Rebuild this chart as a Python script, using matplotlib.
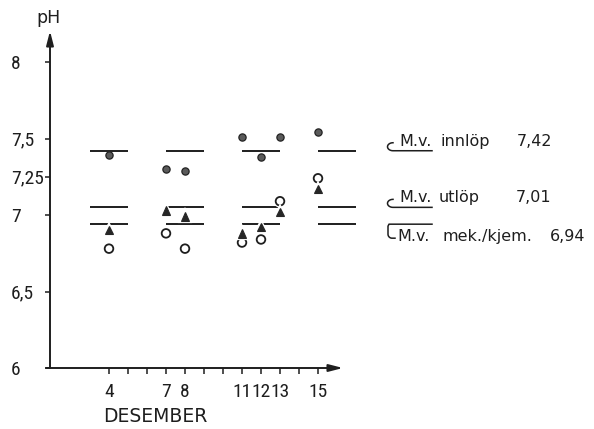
import matplotlib
matplotlib.use('Agg')
import matplotlib.pyplot as plt
import matplotlib.patheffects as pe
from matplotlib import font_manager as fm
import numpy as np

# ---------------- data ----------------
days_innlop = [4, 7, 8, 11, 12, 13, 15]
ph_innlop = [7.39, 7.30, 7.29, 7.51, 7.38, 7.51, 7.54]
days_utlop = [4, 7, 8, 11, 12, 13, 15]
ph_utlop = [6.90, 7.03, 6.99, 6.88, 6.92, 7.02, 7.17]
days_mek = [4, 7, 8, 11, 12, 13, 15]
ph_mek = [6.78, 6.88, 6.78, 6.82, 6.84, 7.09, 7.24]

xtick_days = list(range(4, 16))
xtick_labels = ['4', '', '', '7', '8', '', '', '11', '12', '13', '', '15']
ytick_vals = [6, 6.5, 7, 7.25, 7.5, 8]
ytick_labels = ['6', '6,5', '7', '7,25', '7,5', '8']

seg_start = [3, 7, 11, 15]
seg_end = [5, 9, 13, 17]
mean_values = [7.42, 7.05, 6.94]
mean_names = ['innlöp', 'utlöp', 'mek./kjem.']
mean_labels = ['7,42', '7,01', '6,94']

# ---------------- fonts ----------------
plt.rcParams['font.family'] = ['DejaVu Sans']
names = {f.name for f in fm.fontManager.ttflist}
num_font = None
num_stretch = 'normal'
for cand in ['Liberation Sans Narrow', 'Roboto Condensed', 'Open Sans Condensed',
             'Noto Sans Condensed', 'DejaVu Sans Condensed']:
    if cand in names:
        num_font = cand
        break
if num_font is None:
    for f in fm.fontManager.ttflist:
        st = f.stretch
        if f.name in ('DejaVu Sans', 'Noto Sans', 'Open Sans', 'Roboto') and \
                (st in ('condensed', 'semi-condensed', 'extra-condensed') or
                 (isinstance(st, (int, float)) and st < 500)) and f.weight in (400, 'normal', 'regular'):
            num_font = f.name
            num_stretch = 'condensed'
            break
if num_font is not None:
    NUM_FAM = [num_font, 'DejaVu Sans']
    NUM_SIZE = 14
    Y_SIZE = 14
else:
    NUM_FAM = ['Liberation Sans', 'DejaVu Sans']
    NUM_SIZE = 11.5
    Y_SIZE = 12.5

# ---------------- layout ----------------
W, H = 594, 429
INK = '#1e1e1e'

fig = plt.figure(figsize=(W / 100, H / 100), dpi=100)

PX_PER_DAY, DAY4_PX = 19.0, 109.0
PX_PER_PH, PH8_PX = 153.0, 62.0


def dx(px):
    return 4 + (px - DAY4_PX) / PX_PER_DAY


def dy(py):
    return 8 - (py - PH8_PX) / PX_PER_PH


left_px, right_px, top_px, bottom_px = 50, 560, 20, 368
ax = fig.add_axes([left_px / W, 1 - bottom_px / H,
                   (right_px - left_px) / W, (bottom_px - top_px) / H])
ax.set_xlim(dx(left_px), dx(right_px))
ax.set_ylim(dy(bottom_px), dy(top_px))
for s in ax.spines.values():
    s.set_visible(False)

# axes with arrows
arrow = dict(arrowstyle='-|>,head_length=0.7,head_width=0.18', color=INK,
             lw=1.4, mutation_scale=12, shrinkA=0, shrinkB=0)
ax.annotate('', xy=(dx(343), dy(bottom_px)), xytext=(dx(46), dy(bottom_px)),
            arrowprops=arrow, annotation_clip=False)
ax.annotate('', xy=(dx(left_px), dy(31)), xytext=(dx(left_px), dy(bottom_px)),
            arrowprops=arrow, annotation_clip=False)

# ticks
ax.set_xticks(xtick_days, xtick_labels)
ax.tick_params(axis='x', direction='out', length=4.3, width=1.1, color=INK,
               pad=6.5, labelsize=NUM_SIZE, labelcolor=INK)
ax.set_yticks(ytick_vals, ytick_labels)
ax.tick_params(axis='y', direction='out', length=3.6, width=1.1, color=INK,
               pad=24.5, labelsize=Y_SIZE, labelcolor=INK)
for lbl in ax.get_yticklabels():
    lbl.set_ha('left')
    lbl.set_family(NUM_FAM)
    lbl.set_stretch(num_stretch)
for lbl in ax.get_xticklabels():
    lbl.set_family(NUM_FAM)
    lbl.set_stretch(num_stretch)

ax.text(dx(48), dy(18), 'pH', ha='center', va='center', fontsize=12.5,
        color=INK, clip_on=False)
ax.text(dx(155), dy(416), 'DESEMBER', ha='center', va='center', fontsize=13.5,
        color=INK, clip_on=False)

# mean segments
for m in mean_values:
    ax.hlines([m] * len(seg_start), seg_start, seg_end, colors=INK, lw=1.4,
              clip_on=False, zorder=2)

# points
halo = [pe.Stroke(linewidth=3.0, foreground='white'), pe.Normal()]
ax.plot(days_innlop, ph_innlop, ls='none', marker='o', ms=5.2, mfc='#5a5a5a',
        mec='#222222', mew=0.9, zorder=4, clip_on=False)
ax.plot(days_utlop, ph_utlop, ls='none', marker='^', ms=6, mfc='#262626',
        mec='#262626', mew=0.8, zorder=5, clip_on=False, path_effects=halo)
ax.plot(days_mek, ph_mek, ls='none', marker='o', ms=6.2, mfc='white',
        mec=INK, mew=1.3, zorder=4, clip_on=False, path_effects=halo)

# right-hand labels
word_x = [(399, 441, 517), (399, 439, 516), (397, 443, 550)]


def pline(pts, **kw):
    xs = [dx(p[0]) for p in pts]
    ys = [dy(p[1]) for p in pts]
    ax.plot(xs, ys, color=INK, lw=1.1, clip_on=False, **kw)


for i, (m, name, lab) in enumerate(zip(mean_values, mean_names, mean_labels)):
    L = PH8_PX + (8 - m) * PX_PER_PH
    xs = word_x[i]
    if i < 2:
        base = L - 5
        th = np.linspace(np.pi / 2, 3 * np.pi / 2, 20)
        pts = [(393 + 5.5 * np.cos(t), (L - 4) - 4 * np.sin(t)) for t in th]
        pts.append((432, L))
        pline(pts)
    else:
        base = L + 17
        th = np.linspace(np.pi, 3 * np.pi / 2, 10)
        pts = [(432, L), (389, L), (388, L + 2)]
        pts += [(392 + 4 * np.cos(t), (L + 10) - 4 * np.sin(t)) for t in th]
        pts.append((395, L + 14))
        pline(pts)
    for x, txt in zip(xs, ['M.v.', name, lab]):
        ax.text(dx(x), dy(base), txt, ha='left', va='baseline', fontsize=11.5,
                color=INK, clip_on=False)

fig.savefig('out.png', dpi=100, facecolor='white')
